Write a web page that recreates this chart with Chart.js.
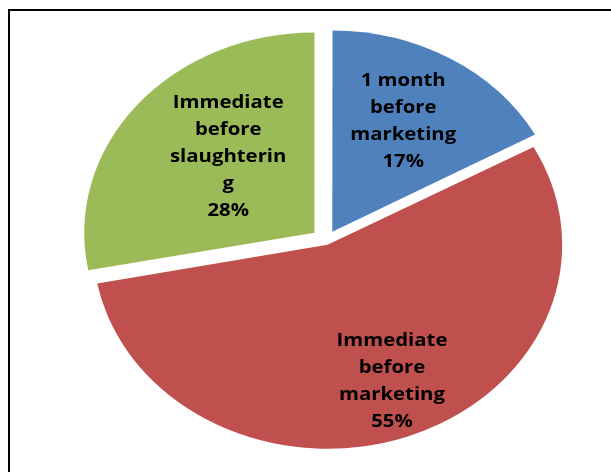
<!DOCTYPE html>
<html><head><meta charset="utf-8">
<script src="https://cdn.jsdelivr.net/npm/chart.js@4"></script>
<style>html,body{margin:0;padding:0;background:#fff;overflow:hidden}</style>
</head><body>
<canvas id="c" width="611" height="472"></canvas>
<script>
// ---- data ----
const categories = ["1 month before marketing", "Immediate before marketing", "Immediate before slaughtering"];
const values = [17, 55, 28];
const colors = ["#4F81BD", "#C0504D", "#9BBB59"];

// ---- style ----
const SX = 1.15;                 // horizontal stretch of the pie (reference is elliptical)
const TEXT_SX = 1.13;
const LABEL_FONT = 'bold 18px "Open Sans"';
const LINE_H = 27;
const WRAP_W = 106;
const sliceOffsets = [43, 16, 52];
const labelPlace = [{k: 0.627, dt: -1.5}, {k: 0.72, dt: -2.5}, {k: 0.533, dt: 5.8}];

function wrap(ctx, text, maxW) {
  const out = [];
  let cur = '';
  text.split(' ').forEach(w => {
    const test = cur ? cur + ' ' + w : w;
    if (ctx.measureText(test).width <= maxW) { cur = test; return; }
    if (cur) out.push(cur);
    cur = '';
    let piece = '';
    for (const ch of w) {
      if (ctx.measureText(piece + ch).width > maxW && piece) { out.push(piece); piece = ch; }
      else piece += ch;
    }
    cur = piece;
  });
  if (cur) out.push(cur);
  return out;
}

const frame = {
  id: 'frame',
  beforeDraw(chart) {
    const ctx = chart.ctx;
    ctx.save();
    ctx.fillStyle = '#fff';
    ctx.fillRect(0, 0, chart.width, chart.height);
    ctx.strokeStyle = '#000';
    ctx.lineWidth = 2;
    ctx.strokeRect(9, 10, 800, 700);
    ctx.restore();
  }
};

const stretch = {
  id: 'stretch',
  beforeDatasetsDraw(chart) {
    const ctx = chart.ctx, a = chart.chartArea, cx = (a.left + a.right) / 2;
    ctx.save();
    ctx.translate(cx, 0); ctx.scale(SX, 1); ctx.translate(-cx, 0);
  },
  afterDatasetsDraw(chart) { chart.ctx.restore(); }
};

const labels = {
  id: 'labels',
  afterDraw(chart) {
    const ctx = chart.ctx, meta = chart.getDatasetMeta(0), a = chart.chartArea;
    const cx = (a.left + a.right) / 2;
    const total = values.reduce((s, v) => s + v, 0);
    ctx.save();
    ctx.font = LABEL_FONT;
    ctx.fillStyle = '#000';
    ctx.textAlign = 'center';
    ctx.textBaseline = 'middle';
    meta.data.forEach((arc, i) => {
      const p = arc.getProps(['x', 'y', 'startAngle', 'endAngle', 'outerRadius', 'circumference'], true);
      const off = (arc.options.offset || 0) / 4;
      const mid = (p.startAngle + p.endAngle) / 2;
      const fix = 1 - Math.sin(Math.min(Math.PI, p.circumference));
      const t = off * (1 + fix);
      const ax = p.x + Math.cos(mid) * t, ay = p.y + Math.sin(mid) * t;
      const ang = mid + labelPlace[i].dt * Math.PI / 180;
      const r = labelPlace[i].k * p.outerRadius;
      const lx = cx + SX * (ax + Math.cos(ang) * r - cx);
      const ly = ay + Math.sin(ang) * r;
      const lines = wrap(ctx, categories[i], WRAP_W).concat([Math.round(values[i] / total * 100) + '%']);
      const y0 = ly - (lines.length - 1) * LINE_H / 2;
      lines.forEach((s, j) => {
        ctx.save();
        ctx.translate(lx, y0 + j * LINE_H);
        ctx.scale(TEXT_SX, 1);
        ctx.fillText(s, 0, 0);
        ctx.restore();
      });
    });
    ctx.restore();
  }
};

new Chart(document.getElementById('c'), {
  type: 'pie',
  data: {
    labels: categories,
    datasets: [{
      data: values,
      backgroundColor: colors,
      borderWidth: 0,
      offset: sliceOffsets,
      radius: 200
    }]
  },
  options: {
    responsive: false,
    animation: false,
    layout: {padding: {left: 41, top: 10, right: 0, bottom: 0}},
    plugins: {legend: {display: false}, tooltip: {enabled: false}}
  },
  plugins: [frame, stretch, labels]
});
</script>
</body></html>
